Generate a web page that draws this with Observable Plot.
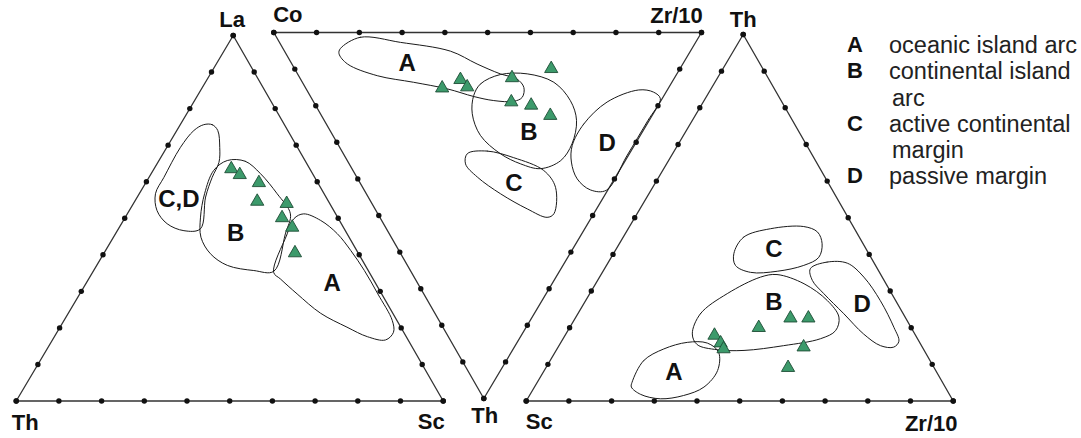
<!DOCTYPE html>
<html>
<head>
<meta charset="utf-8">
<script src="https://cdn.jsdelivr.net/npm/d3@7"></script>
<script src="https://cdn.jsdelivr.net/npm/@observablehq/plot@0.6"></script>
<style>
  html, body { margin: 0; padding: 0; background: #fff; overflow: hidden; }
  #wrap { position: relative; width: 1081px; height: 438px; }
  #legend {
    position: absolute; left: 847px; top: 32px;
    font-family: "Liberation Sans", Arial, Helvetica, sans-serif;
    font-size: 23.5px; line-height: 26.3px; color: #222; white-space: nowrap;
  }
  #legend .row { display: flex; }
  #legend .key { width: 42px; font-weight: bold; color: #111; font-size: 22px; }
  #legend .cont { padding-left: 3px; }
</style>
</head>
<body>
<div id="wrap"><div id="legend"></div></div>
<script>
// ---- Ternary frames: component names (in composition order) and frame corners in plot units ----
const namesLaThSc = ["La", "Th", "Sc"];
const namesCoZrTh = ["Co", "Zr/10", "Th"];
const namesThScZr = ["Th", "Sc", "Zr/10"];

const cornersLaThSc = [[232.7, 35], [15.7, 400.5], [442.7, 400.5]];   // apex up
const cornersCoZrTh = [[273.3, 32], [701, 32], [483.3, 398]];          // apex down
const cornersThScZr = [[742.7, 34], [525.7, 400.5], [952.7, 400.5]];   // apex up

// offsets of the corner labels from their corners (px)
const labelOffsetsLaThSc = [[-1, -16], [9, 22], [-12, 21]];
const labelOffsetsCoZrTh = [[14, -18], [-25, -17], [1, 17]];
const labelOffsetsThScZr = [[0, -15], [13, 21], [-22, 22.5]];

// ---- Samples (percent of each component) ----
const samplesLaThSc = [
  [63.5, 18.4, 18.1], [61.9, 17.2, 20.9], [59.7, 13.8, 26.5], [54.6, 16.7, 28.7],
  [54.0, 10.1, 35.9], [50.1, 13.1, 36.8], [47.5, 12.0, 40.5], [40.5, 14.8, 44.7]
];
const samplesCoZrTh = [
  [52.9, 31.9, 15.2], [49.8, 37.3, 12.9], [47.2, 37.9, 14.9], [38.0, 49.6, 12.4],
  [30.1, 60.0, 9.9], [34.8, 46.2, 19.0], [29.7, 50.4, 19.9], [23.8, 53.5, 22.7]
];
const samplesThScZr = [
  [17.9, 47.1, 35.0], [15.8, 46.7, 37.5], [14.2, 46.8, 39.0], [20.0, 35.7, 44.3],
  [22.6, 27.0, 50.4], [22.6, 22.8, 54.6], [14.7, 27.8, 57.5], [9.1, 34.2, 56.7]
];

// ---- Tectonic setting fields (outline vertices, percent) ----
const laThSc_CD = [
  [75.6, 18.9, 5.5], [75.6, 16.9, 7.5], [74.0, 16.4, 9.6], [69.4, 18.2, 12.4], [65.3, 20.4, 14.3],
  [61.2, 24.0, 14.8], [55.8, 28.2, 16.0], [47.1, 33.7, 19.2], [46.6, 37.8, 15.6], [48.5, 40.8, 10.7],
  [52.1, 41.4, 6.5], [56.7, 39.5, 3.8], [61.2, 35.3, 3.5], [69.4, 27.4, 3.2], [74.0, 22.0, 4.0]
];
const laThSc_B = [
  [65.8, 18.2, 16.0], [65.6, 14.1, 20.3], [62.2, 12.2, 25.6], [56.7, 11.0, 32.3], [51.2, 10.6, 38.2],
  [45.7, 14.5, 39.8], [35.5, 22.2, 42.3], [35.7, 26.8, 37.5], [37.1, 32.3, 30.6], [40.3, 34.7, 25.0],
  [44.8, 34.7, 20.5], [50.3, 32.1, 17.6], [56.7, 28.0, 15.3], [63.1, 22.7, 14.2]
];
const laThSc_A = [
  [35.2, 22.4, 42.4], [45.3, 14.4, 40.3], [49.9, 10.4, 39.7], [51.2, 7.5, 41.3], [49.4, 4.4, 46.2],
  [45.8, 2.3, 51.9], [41.2, 1.4, 57.4], [35.7, 0.9, 63.4], [29.3, 0.9, 69.8], [22.0, 1.1, 76.9],
  [18.8, 2.4, 78.8], [16.7, 5.3, 78.0], [17.6, 9.1, 73.3], [20.2, 12.6, 67.2], [24.0, 16.9, 59.1],
  [29.3, 19.8, 50.9], [33.4, 21.7, 44.9]
];

const coZrTh_A = [
  [82.2, 13.4, 4.4], [79.1, 19.6, 1.3], [69.0, 28.3, 2.7], [56.1, 38.8, 5.1], [48.1, 43.3, 8.6],
  [41.3, 47.4, 11.3], [36.7, 50.6, 12.7], [33.9, 51.1, 15.0], [32.9, 49.4, 17.7], [34.3, 46.9, 18.8],
  [39.1, 42.3, 18.6], [44.3, 38.2, 17.5], [51.6, 33.0, 15.4], [60.4, 26.0, 13.6], [69.8, 18.4, 11.8],
  [78.4, 13.0, 8.6], [81.8, 12.4, 5.8]
];
const coZrTh_B = [
  [44.5, 38.3, 17.2], [44.5, 41.5, 14.0], [41.2, 47.3, 11.5], [35.0, 53.7, 11.3], [27.6, 58.8, 13.6],
  [21.2, 60.2, 18.6], [17.0, 59.0, 24.0], [14.8, 54.8, 30.4], [15.1, 49.9, 35.0], [18.7, 44.1, 37.2],
  [24.0, 40.1, 35.9], [30.2, 36.7, 33.1], [37.4, 34.5, 28.1], [42.3, 35.5, 22.2]
];
const coZrTh_C = [
  [37.9, 29.0, 33.1], [33.6, 34.0, 32.4], [26.5, 39.3, 34.2], [17.7, 44.6, 37.7], [12.6, 45.1, 42.3],
  [9.3, 41.2, 49.5], [10.4, 39.1, 50.5], [16.2, 35.6, 48.2], [24.5, 31.4, 44.1], [32.3, 28.2, 39.5],
  [36.9, 27.2, 35.9]
];
const coZrTh_D = [
  [14.5, 54.6, 30.9], [14.8, 60.2, 25.0], [12.4, 68.6, 19.0], [6.7, 77.6, 15.7], [2.9, 80.8, 16.3],
  [0.4, 81.5, 18.1], [0.3, 75.6, 24.1], [0.3, 66.0, 33.7], [0.3, 56.6, 43.1], [4.1, 52.9, 43.0],
  [8.7, 51.3, 40.0], [12.4, 52.2, 35.4]
];

const thScZr_C = [
  [40.2, 31.6, 28.2], [44.7, 27.1, 28.2], [47.0, 19.7, 33.3], [47.6, 11.6, 40.8], [46.1, 9.1, 44.8],
  [42.9, 9.6, 47.5], [39.2, 12.2, 48.6], [37.0, 16.8, 46.2], [35.4, 23.8, 40.8], [35.1, 30.2, 34.7],
  [37.0, 32.8, 30.2]
];
const thScZr_B = [
  [18.3, 52.1, 29.6], [23.8, 47.5, 28.7], [29.3, 38.5, 32.2], [33.8, 28.5, 37.7], [34.5, 24.3, 41.2],
  [32.0, 19.2, 48.8], [27.4, 16.0, 56.6], [22.9, 15.5, 61.6], [19.2, 18.1, 62.7], [17.0, 22.7, 60.3],
  [15.1, 32.3, 52.6], [13.8, 42.2, 44.0], [14.0, 48.4, 37.6], [15.4, 52.4, 32.2]
];
const thScZr_D = [
  [36.1, 15.7, 48.2], [37.9, 10.9, 51.2], [37.6, 6.3, 56.1], [33.8, 4.3, 61.9], [27.4, 3.6, 69.0],
  [20.1, 4.0, 75.9], [16.3, 4.7, 79.0], [14.7, 6.7, 78.6], [15.1, 9.6, 75.3], [18.3, 12.0, 69.7],
  [23.8, 13.9, 62.3], [29.3, 15.9, 54.8], [32.9, 16.8, 50.3]
];
const thScZr_A = [
  [5.1, 72.7, 22.2], [11.0, 67.1, 21.9], [14.2, 60.8, 25.0], [16.0, 54.4, 29.6], [15.8, 49.8, 34.4],
  [13.3, 48.4, 38.3], [8.3, 51.1, 40.6], [3.8, 56.5, 39.7], [1.5, 62.4, 36.1], [0.6, 68.3, 31.1],
  [1.8, 72.3, 25.9], [3.8, 73.5, 22.7]
];

// field name and where it is written (percent)
const fieldLabelsLaThSc = [["C,D", [55.3, 34.7, 10.0]], ["B", [45.8, 26.1, 28.1]], ["A", [32.1, 10.2, 57.7]]];
const fieldLabelsCoZrTh = [["A", [64.5, 27.0, 8.5]], ["B", [26.5, 46.3, 27.2]], ["C", [22.9, 35.9, 41.2]], ["D", [6.6, 63.0, 30.4]]];
const fieldLabelsThScZr = [["C", [41.3, 21.7, 37.0]], ["B", [27.0, 28.7, 44.3]], ["D", [26.5, 8.3, 65.2]], ["A", [7.9, 61.5, 30.6]]];

// gridline ticks along every edge, percent
const edgeTicks = d3.range(0, 101, 10);

// legend
const legendKeys = ["A", "B", "C", "D"];
const legendTexts = [["oceanic island arc"], ["continental island", "arc"], ["active continental", "margin"], ["passive margin"]];

// ---- assemble ----
const diagrams = [
  {id: "LaThSc", names: namesLaThSc, corners: cornersLaThSc, offsets: labelOffsetsLaThSc, samples: samplesLaThSc,
   fields: {"C,D": laThSc_CD, "B": laThSc_B, "A": laThSc_A}, labels: fieldLabelsLaThSc},
  {id: "CoZrTh", names: namesCoZrTh, corners: cornersCoZrTh, offsets: labelOffsetsCoZrTh, samples: samplesCoZrTh,
   fields: {"A": coZrTh_A, "B": coZrTh_B, "C": coZrTh_C, "D": coZrTh_D}, labels: fieldLabelsCoZrTh},
  {id: "ThScZr", names: namesThScZr, corners: cornersThScZr, offsets: labelOffsetsThScZr, samples: samplesThScZr,
   fields: {"C": thScZr_C, "B": thScZr_B, "D": thScZr_D, "A": thScZr_A}, labels: fieldLabelsThScZr}
];

// barycentric composition -> plot position
function place(corners, comp) {
  const s = comp[0] + comp[1] + comp[2];
  let x = 0, y = 0;
  comp.forEach((c, i) => { x += corners[i][0] * c / s; y += corners[i][1] * c / s; });
  return {x, y};
}

const frameRows = [], tickRows = [], cornerRows = [], fieldRows = [], labelRows = [], sampleRows = [];
for (const d of diagrams) {
  [0, 1, 2, 0].forEach(i => frameRows.push({key: d.id, ...place(d.corners, [0, 1, 2].map(j => j === i ? 1 : 0))}));
  for (const [a, b] of [[0, 1], [1, 2], [2, 0]]) {
    for (const t of edgeTicks) {
      const comp = [0, 0, 0]; comp[a] = 100 - t; comp[b] = t;
      tickRows.push(place(d.corners, comp));
    }
  }
  d.names.forEach((n, i) => {
    const comp = [0, 0, 0]; comp[i] = 100;
    cornerRows.push({text: n, dx: d.offsets[i][0], dy: d.offsets[i][1], ...place(d.corners, comp)});
  });
  for (const [name, pts] of Object.entries(d.fields)) {
    pts.forEach(p => fieldRows.push({key: d.id + name, ...place(d.corners, p)}));
  }
  d.labels.forEach(([name, p]) => labelRows.push({text: name, ...place(d.corners, p)}));
  d.samples.forEach(p => sampleRows.push(place(d.corners, p)));
}

const font = "Liberation Sans, Arial, Helvetica, sans-serif";
const chart = Plot.plot({
  width: 1081,
  height: 438,
  margin: 0,
  x: {domain: [0, 1081], range: [0, 1081], axis: null},
  y: {domain: [0, 438], range: [0, 438], axis: null},
  style: {fontFamily: font, background: "white", overflow: "visible"},
  marks: [
    Plot.line(frameRows, {x: "x", y: "y", z: "key", stroke: "#333", strokeWidth: 1.3}),
    Plot.dot(tickRows, {x: "x", y: "y", r: 2.7, fill: "#111", stroke: "none"}),
    Plot.line(fieldRows, {x: "x", y: "y", z: "key", curve: "catmull-rom-closed", stroke: "#1a1a1a", strokeWidth: 1}),
    Plot.text(labelRows, {x: "x", y: "y", text: "text", fontSize: 24, fontWeight: "bold", fill: "#111",
      textAnchor: "middle", lineAnchor: "middle"}),
    // each corner name sits just outside its corner
    ...cornerRows.map(c => Plot.text([c], {x: "x", y: "y", text: "text", dx: c.dx, dy: c.dy, fontSize: 22,
      fontWeight: "bold", fill: "#111", textAnchor: "middle", lineAnchor: "middle"})),
    Plot.dot(sampleRows, {x: "x", y: "y", symbol: "triangle", r: 4.9, fill: "#3c9a6b", stroke: "#1e4d36", strokeWidth: 0.9})
  ]
});
document.getElementById("wrap").prepend(chart);

// legend as text beside the diagrams
const legend = d3.select("#legend");
legendKeys.forEach((k, i) => {
  legendTexts[i].forEach((line, j) => {
    const row = legend.append("div").attr("class", "row");
    row.append("span").attr("class", "key").text(j === 0 ? k : "");
    row.append("span").attr("class", j === 0 ? "" : "cont").text(line);
  });
});
</script>
</body>
</html>
